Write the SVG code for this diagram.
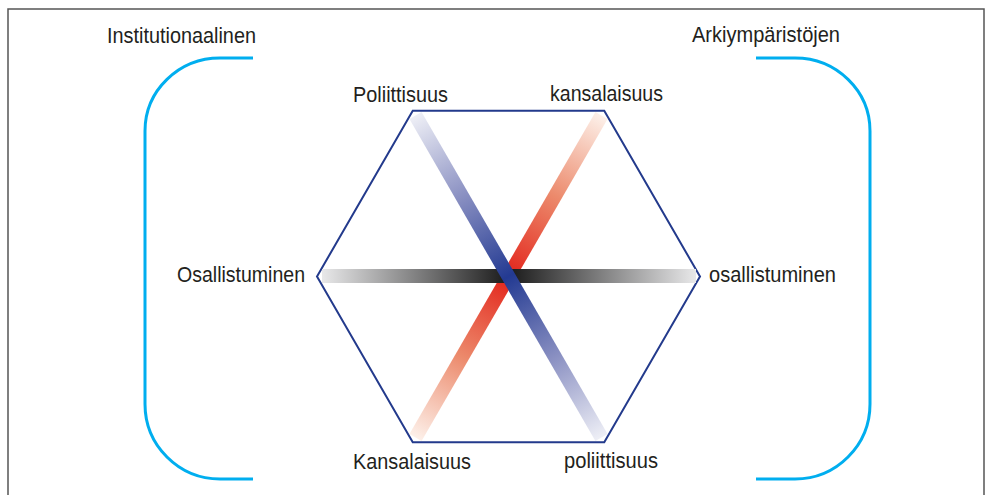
<svg xmlns="http://www.w3.org/2000/svg" width="991" height="495" viewBox="0 0 991 495">
<style>
.lbl{font-family:"Liberation Sans",Arial,sans-serif;font-size:22px;fill:#231f20}
.br{fill:none;stroke:#00aeef;stroke-width:3}
.bar{stroke-width:14;stroke-linecap:butt;fill:none}
</style>
<defs>
<linearGradient id="gBlack" gradientUnits="userSpaceOnUse" x1="322" y1="276" x2="696" y2="276">
<stop offset="0" stop-color="#e8e8e9"/>
<stop offset="0.5" stop-color="#1a1a1a"/>
<stop offset="1" stop-color="#e8e8e9"/>
</linearGradient>
<linearGradient id="gBlue" gradientUnits="userSpaceOnUse" x1="415.5" y1="115.5" x2="601.5" y2="437.5">
<stop offset="0" stop-color="#eeeff6"/>
<stop offset="0.25" stop-color="#8a90c2"/>
<stop offset="0.5" stop-color="#233a92"/>
<stop offset="0.75" stop-color="#8a90c2"/>
<stop offset="1" stop-color="#eeeff6"/>
</linearGradient>
<linearGradient id="gRed" gradientUnits="userSpaceOnUse" x1="415.5" y1="437.5" x2="601.5" y2="115.5">
<stop offset="0" stop-color="#fdf0e9"/>
<stop offset="0.25" stop-color="#ec8a6c"/>
<stop offset="0.5" stop-color="#e3241b"/>
<stop offset="0.75" stop-color="#ec8a6c"/>
<stop offset="1" stop-color="#fdf0e9"/>
</linearGradient>
</defs>
<rect width="991" height="495" fill="#fff"/>
<path d="M8,495 V9 H984 V495" fill="none" stroke="#555" stroke-width="1.5"/>
<g id="brackets">
<path class="br" d="M253,58 H220 A75,73 0 0 0 145,131 V404 A75,75 0 0 0 220,479 H253"/>
<path class="br" d="M756,58 H795 A75,73 0 0 1 870,131 V404 A75,75 0 0 1 795,479 H756"/>
</g>
<g id="hexagon">
<polygon points="317,276.5 412.75,110.7 604.25,110.7 700,276.5 604.25,442.3 412.75,442.3" fill="none" stroke="#233a8c" stroke-width="2"/>
</g>
<g id="connectors">
<line class="bar" x1="415.5" y1="437.5" x2="601.5" y2="115.5" stroke="url(#gRed)"/>
<line class="bar" x1="322" y1="276" x2="696" y2="276" stroke="url(#gBlack)"/>
<line class="bar" x1="415.5" y1="115.5" x2="601.5" y2="437.5" stroke="url(#gBlue)"/>
</g>
<g id="n-institutionaalinen"><text class="lbl" x="107" y="43" textLength="149" lengthAdjust="spacingAndGlyphs">Institutionaalinen</text></g>
<g id="n-arkiymparistojen"><text class="lbl" x="692" y="42" textLength="148" lengthAdjust="spacingAndGlyphs">Arkiympäristöjen</text></g>
<g id="n-poliittisuus-top"><text class="lbl" x="353" y="102" textLength="95" lengthAdjust="spacingAndGlyphs">Poliittisuus</text></g>
<g id="n-kansalaisuus-top"><text class="lbl" x="550" y="101" textLength="113" lengthAdjust="spacingAndGlyphs">kansalaisuus</text></g>
<g id="n-osallistuminen-left"><text class="lbl" x="177" y="282" textLength="128" lengthAdjust="spacingAndGlyphs">Osallistuminen</text></g>
<g id="n-osallistuminen-right"><text class="lbl" x="709" y="282" textLength="127" lengthAdjust="spacingAndGlyphs">osallistuminen</text></g>
<g id="n-kansalaisuus-bottom"><text class="lbl" x="353" y="469" textLength="118" lengthAdjust="spacingAndGlyphs">Kansalaisuus</text></g>
<g id="n-poliittisuus-bottom"><text class="lbl" x="564" y="468" textLength="94" lengthAdjust="spacingAndGlyphs">poliittisuus</text></g>
</svg>
